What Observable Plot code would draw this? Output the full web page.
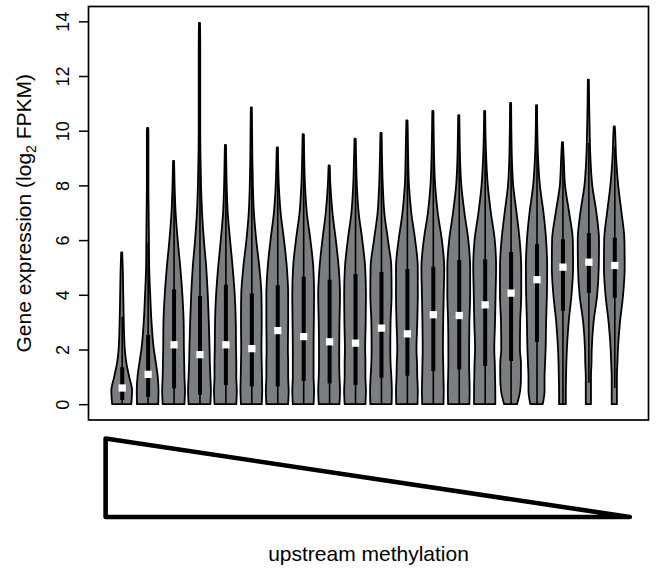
<!DOCTYPE html>
<html>
<head>
<meta charset="utf-8">
<script src="https://cdn.jsdelivr.net/npm/d3@7"></script>
<script src="https://cdn.jsdelivr.net/npm/@observablehq/plot@0.6"></script>
<style>
  body { margin: 0; background: #fff; }
  svg { display: block; }
</style>
</head>
<body>
<div id="chart"></div>
<script>
// ---- data ----
const bins = [1, 2, 3, 4, 5, 6, 7, 8, 9, 10, 11, 12, 13, 14, 15, 16, 17, 18, 19, 20];
const levels = [0, 0.5, 1, 1.5, 2, 3, 4, 5, 6, 7, 8, 9, 10, 11, 12, 13];
const tops = [5.55, 10.1, 8.9, 13.94, 9.48, 10.85, 9.39, 9.87, 8.73, 9.71, 9.92, 10.38, 10.72, 10.57, 10.72, 11.02, 10.93, 9.58, 11.87, 10.16];
const medians = [0.61, 1.11, 2.19, 1.83, 2.19, 2.05, 2.71, 2.49, 2.30, 2.25, 2.80, 2.59, 3.29, 3.26, 3.65, 4.08, 4.57, 5.03, 5.21, 5.09];
const q1 = [0.15, 0.27, 0.58, 0.35, 0.70, 0.65, 0.65, 0.85, 0.76, 0.70, 0.97, 1.04, 1.21, 1.27, 1.40, 1.58, 2.28, 3.41, 4.07, 3.89];
const q3 = [1.35, 2.53, 4.20, 3.95, 4.37, 4.05, 4.35, 4.66, 4.56, 4.76, 4.84, 4.94, 5.03, 5.27, 5.30, 5.57, 5.85, 6.03, 6.26, 6.09];
const whiskerLo = [0, 0, 0, 0, 0, 0, 0, 0, 0, 0, 0, 0, 0, 0, 0, 0, 0, 0, 0.78, 0.59];
const whiskerHi = [3.2, 5.9, 8.9, 9.35, 9.48, 9.15, 9.39, 9.87, 8.73, 9.71, 9.92, 10.38, 10.72, 10.57, 10.72, 11.02, 10.93, 9.58, 9.55, 9.39];
// violin half-widths (in bin units) at each of `levels`, up to each violin's top
const halfWidths = [
  [.37, .40, .29, .18, .12, .08, .06, .04],
  [.41, .42, .39, .32, .24, .15, .10, .06, .05, .04, .03, .03, .02],
  [.42, .44, .42, .41, .40, .39, .34, .26, .16, .08, .04],
  [.42, .44, .42, .40, .39, .36, .32, .26, .17, .10, .06, .04, .03, .03, .02, .02],
  [.42, .44, .42, .42, .41, .40, .36, .28, .18, .09, .05, .03],
  [.40, .42, .41, .40, .39, .40, .39, .31, .19, .10, .06, .04, .03],
  [.42, .44, .42, .42, .41, .42, .42, .37, .26, .13, .06, .03],
  [.40, .42, .40, .40, .40, .41, .42, .39, .28, .14, .07, .04],
  [.40, .42, .40, .39, .39, .40, .42, .37, .26, .13, .05],
  [.40, .42, .40, .40, .39, .41, .42, .39, .28, .14, .07, .04],
  [.41, .42, .40, .37, .36, .37, .41, .40, .27, .13, .07, .04],
  [.41, .42, .40, .39, .37, .40, .42, .42, .32, .17, .08, .05, .03],
  [.41, .42, .41, .40, .39, .40, .42, .44, .35, .19, .09, .05, .03],
  [.41, .42, .41, .40, .40, .41, .44, .44, .37, .22, .10, .05, .03],
  [.41, .41, .40, .39, .37, .40, .42, .44, .39, .24, .12, .06, .03],
  [.25, .37, .40, .40, .36, .37, .41, .41, .35, .23, .10, .05, .03],
  [.24, .31, .31, .33, .35, .37, .40, .41, .37, .27, .13, .06, .03],
  [.13, .13, .14, .15, .17, .24, .35, .41, .40, .26, .10, .05],
  [.10, .10, .10, .12, .13, .20, .34, .40, .41, .31, .15, .08, .05, .03],
  [.10, .10, .10, .12, .14, .22, .34, .40, .39, .28, .15, .07, .03]
];
const tipWidth = 0.02;
const yTicks = [0, 2, 4, 6, 8, 10, 12, 14];
const yLabelMain = "Gene expression (log";
const yLabelSub = "2";
const yLabelTail = " FPKM)";
const xLabel = "upstream methylation";
// methylation wedge: full at the first bin edge, zero at the last
const wedgeX = [0.36, 0.36, 20.58, 0.36];
const wedgeLevel = [1, 0, 0, 1];

// ---- build ----
const rows = [];
bins.forEach((b, i) => {
  halfWidths[i].forEach((w, j) => rows.push({bin: b, v: levels[j], w: Math.max(w, 0.03)}));
  rows.push({bin: b, v: tops[i], w: tipWidth});
});
const stats = bins.map((b, i) => ({bin: b, med: medians[i], q1: q1[i], q3: q3[i], lo: whiskerLo[i], hi: whiskerHi[i]}));

const font = "'Liberation Sans', Arial, Helvetica, sans-serif";

const main = Plot.plot({
  width: 656, height: 421,
  marginLeft: 88, marginRight: 8, marginTop: 6, marginBottom: 1.5,
  style: {fontFamily: font, background: "white", color: "black"},
  x: {domain: [-0.3, 21.3], axis: null},
  y: {domain: [-0.56, 14.56]},
  marks: [
    Plot.areaX(rows, {
      y: "v", x1: d => d.bin - d.w, x2: d => d.bin + d.w, z: "bin",
      fill: "#7b7e81", stroke: "black", strokeWidth: 1.8, curve: "monotone-y"
    }),
    Plot.ruleX(stats, {x: "bin", y1: "lo", y2: "hi", stroke: "black", strokeWidth: 1.6}),
    Plot.ruleX(stats, {x: "bin", y1: "q1", y2: "q3", stroke: "black", strokeWidth: 4}),
    Plot.dot(stats, {x: "bin", y: "med", symbol: "square", r: 4.1, fill: "white", stroke: null}),
    Plot.frame({stroke: "black", strokeWidth: 1.7}),
    Plot.axisY({ticks: yTicks, tickSize: 9, tickFormat: () => "", label: null, strokeWidth: 1.5}),
    Plot.text(yTicks, {y: d => d, frameAnchor: "left", textAnchor: "middle", rotate: -90, dx: -25, fontSize: 18, text: d => String(d), fill: "black"}),
    Plot.text([yLabelMain], {frameAnchor: "left", textAnchor: "middle", rotate: -90, dx: -64, fontSize: 21, text: d => d, fill: "black"})
  ]
});

const sub = Plot.plot({
  width: 656, height: 152,
  marginLeft: 88, marginRight: 8, marginTop: 17, marginBottom: 56.5,
  style: {fontFamily: font, background: "white", color: "black"},
  x: {domain: [-0.3, 21.3], axis: null},
  y: {domain: [0, 1], axis: null},
  marks: [
    Plot.line(wedgeX.map((x, i) => ({x, level: wedgeLevel[i]})), {
      x: "x", y: "level", stroke: "black", strokeWidth: 4.6,
      strokeLinejoin: "round", strokeLinecap: "round"
    }),
    Plot.text([xLabel], {frameAnchor: "bottom", dy: 44, fontSize: 21, text: d => d, fill: "black"})
  ]
});

const chart = document.getElementById("chart");
chart.appendChild(main);
chart.appendChild(sub);

// add subscript to the y-axis title
const t = Array.from(main.querySelectorAll("text")).find(el => el.textContent === yLabelMain);
if (t) {
  const ns = "http://www.w3.org/2000/svg";
  const s = document.createElementNS(ns, "tspan");
  s.setAttribute("dy", "5");
  s.setAttribute("font-size", "14");
  s.textContent = yLabelSub;
  const r = document.createElementNS(ns, "tspan");
  r.setAttribute("dy", "-5");
  r.textContent = yLabelTail;
  t.appendChild(s);
  t.appendChild(r);
}
</script>
</body>
</html>
